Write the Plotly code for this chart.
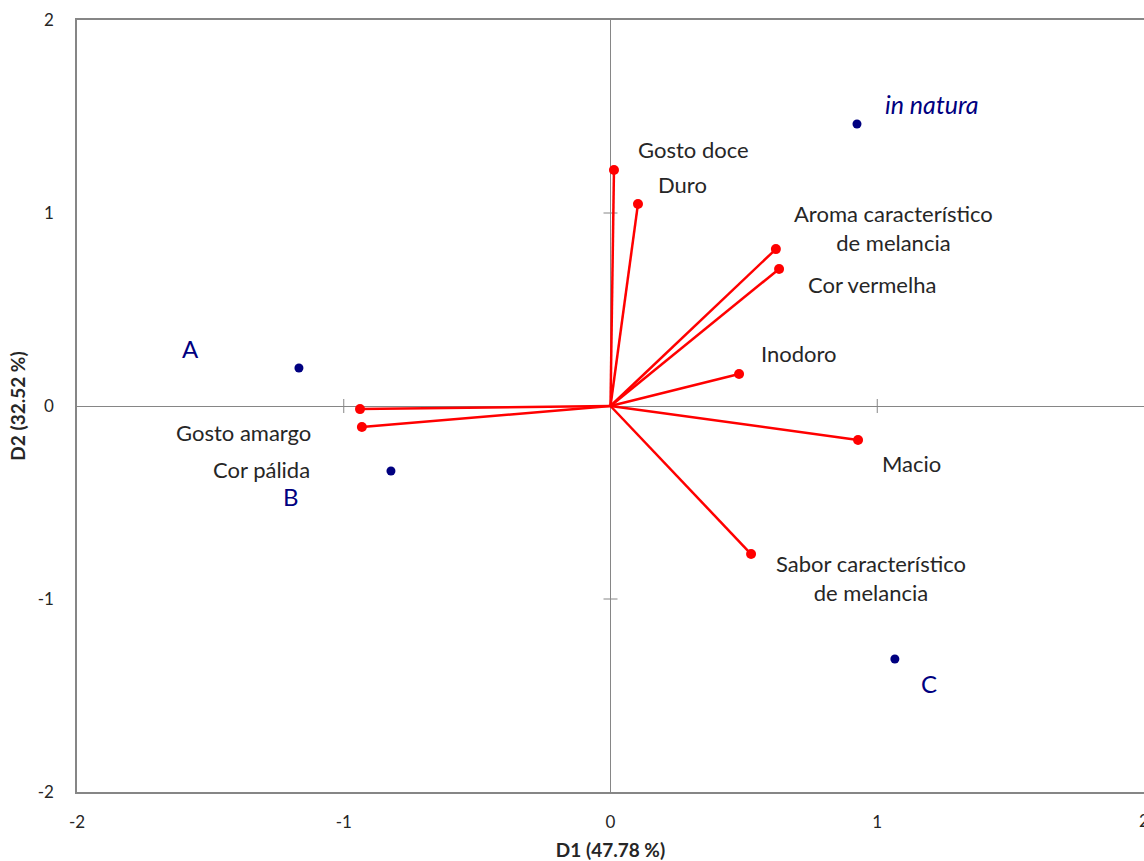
import plotly.graph_objects as go

# Observations (product scores)
obs_names = ["A", "B", "C", "in natura"]
obs_d1 = [-1.168, -0.823, 1.066, 0.924]
obs_d2 = [0.197, -0.337, -1.311, 1.461]

# Variables (loadings)
var_names = ["Gosto doce", "Duro", "Aroma característico<br>de melancia", "Cor vermelha",
             "Inodoro", "Macio", "Sabor característico<br>de melancia", "Gosto amargo", "Cor pálida"]
var_d1 = [0.013, 0.103, 0.620, 0.632, 0.482, 0.928, 0.527, -0.939, -0.932]
var_d2 = [1.223, 1.047, 0.813, 0.710, 0.166, -0.176, -0.767, -0.016, -0.109]

tick_vals = [-2, -1, 0, 1, 2]
tick_text = ["-2", "-1", "0", "1", "2"]
x_title = "D1 (47.78 %)"
y_title = "D2 (32.52 %)"

# label offsets in pixels (style / placement)
obs_off = [(-108, 19), (-100, -25), (34, -24), (75, 20)]
var_off = [(80, 20), (45, 19), (118, 21), (93, -16), (60, 20), (53, -24), (120, -24), (-117, -23), (-100, -42)]

FONT = "Lato"
GRAY = "#868686"
NAVY = "#000080"
RED = "#ff0000"
TXT = "#262626"

fig = go.Figure()

inner_ticks = [v for v in tick_vals if v not in (0, -2, 2)]
# cross tick marks on the zero axes
fig.add_trace(go.Scatter(
    x=inner_ticks, y=[0] * len(inner_ticks), mode="markers",
    marker=dict(symbol="line-ns", size=10, line=dict(color=GRAY, width=1)),
    hoverinfo="skip", showlegend=False))
fig.add_trace(go.Scatter(
    x=[0] * len(inner_ticks), y=inner_ticks, mode="markers",
    marker=dict(symbol="line-ew", size=10, line=dict(color=GRAY, width=1)),
    hoverinfo="skip", showlegend=False))

# vectors
lx, ly = [], []
for a, b in zip(var_d1, var_d2):
    lx += [0, a, None]
    ly += [0, b, None]
fig.add_trace(go.Scatter(x=lx, y=ly, mode="lines", line=dict(color=RED, width=2.5),
                         hoverinfo="skip", showlegend=False))
fig.add_trace(go.Scatter(x=var_d1, y=var_d2, mode="markers", marker=dict(color=RED, size=10),
                         text=var_names, showlegend=False))

# observations
fig.add_trace(go.Scatter(x=obs_d1, y=obs_d2, mode="markers", marker=dict(color=NAVY, size=9),
                         text=obs_names, showlegend=False))

for n, a, b, (dx, dy) in zip(var_names, var_d1, var_d2, var_off):
    fig.add_annotation(x=a, y=b, text=n, showarrow=False, xshift=dx, yshift=dy,
                       font=dict(family=FONT, size=22, color=TXT), align="center")

for n, a, b, (dx, dy) in zip(obs_names, obs_d1, obs_d2, obs_off):
    txt = "<i>" + n + "</i>" if n == "in natura" else n
    fig.add_annotation(x=a, y=b, text=txt, showarrow=False, xshift=dx, yshift=dy,
                       font=dict(family=FONT, size=24 if n != "in natura" else 25, color=NAVY))

# last x tick label, partly cut by the right edge as in the reference
fig.add_annotation(x=tick_vals[-1], y=0, xref="x", yref="paper", text=tick_text[-1],
                   showarrow=False, yanchor="top", yshift=-16,
                   font=dict(family=FONT, size=17, color=TXT))

fig.update_xaxes(range=[-2, 2], tickvals=tick_vals[:-1], ticktext=tick_text[:-1], showgrid=False,
                 zeroline=True, zerolinecolor=GRAY, zerolinewidth=1,
                 showline=True, linecolor=GRAY, linewidth=1.5, mirror=True,
                 ticks="", ticklabelstandoff=14,
                 tickfont=dict(family=FONT, size=17, color=TXT),
                 title=dict(text="<b>" + x_title + "</b>", standoff=14,
                            font=dict(family=FONT, size=19, color=TXT)))
fig.update_yaxes(range=[-2, 2], tickvals=tick_vals, ticktext=tick_text, showgrid=False,
                 zeroline=True, zerolinecolor=GRAY, zerolinewidth=1,
                 showline=True, linecolor=GRAY, linewidth=1.5, mirror=False,
                 ticks="", ticklabelstandoff=18,
                 tickfont=dict(family=FONT, size=17, color=TXT),
                 title=dict(text="<b>" + y_title + "</b>", standoff=7,
                            font=dict(family=FONT, size=19, color=TXT)))

fig.update_layout(width=1144, height=861, autosize=False,
                  margin=dict(l=77, r=0, t=20, b=69, autoexpand=False),
                  plot_bgcolor="white", paper_bgcolor="white", showlegend=False)

fig.write_html("out.html")
